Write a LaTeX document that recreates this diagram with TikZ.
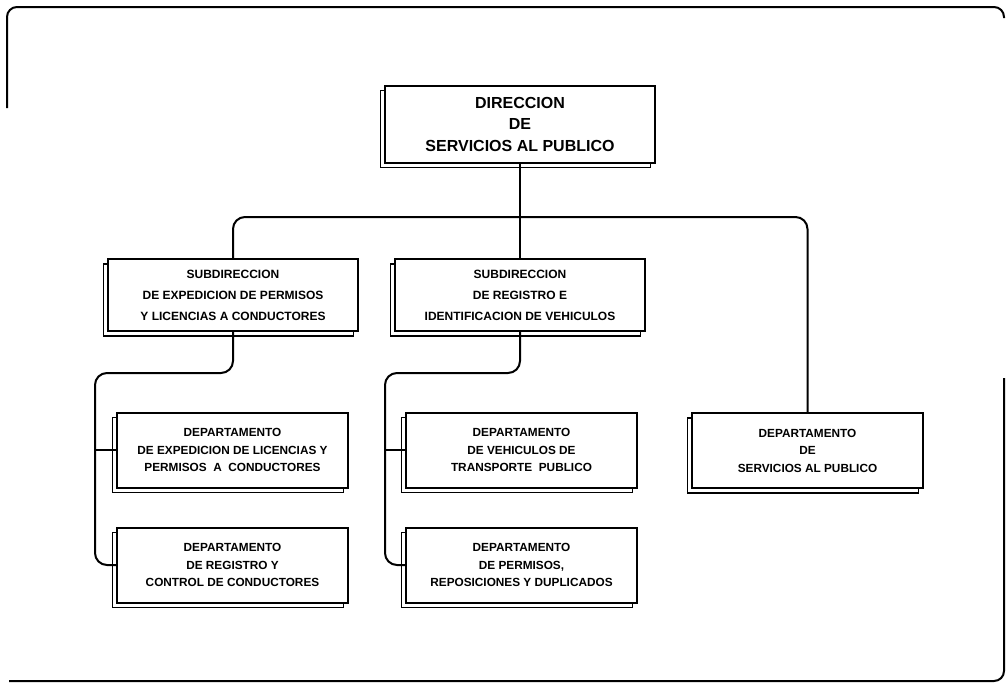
\documentclass[tikz,border=0pt]{standalone}
\usepackage{fontspec}
\setmainfont{Liberation Sans}
\usetikzlibrary{shadows}
\begin{document}
\begin{tikzpicture}[x=1pt,y=-1pt,
  box/.style={draw, fill=white, line width=2pt, inner sep=0pt, align=center,
    font=\bfseries\fontsize{11.8}{17.5}\selectfont,
    copy shadow={shadow xshift=-4.5pt, shadow yshift=-5pt, draw=black, fill=white, line width=1.8pt}},
  subbox/.style={box, minimum width=250pt, minimum height=72pt, font=\bfseries\fontsize{12}{21}\selectfont},
  depbox/.style={box, minimum width=231pt, minimum height=75pt},
  conn/.style={line width=2pt, rounded corners=12pt},
  frame/.style={line width=2pt, rounded corners=10pt}]
\useasboundingbox (0,0) rectangle (1006,683);
% frame
\draw[frame] (7,108) -- (7,7) -- (1004,7) -- (1004,18);
\draw[frame] (1004,378) -- (1004,681) -- (9,681);
% boxes
\node[box, minimum width=270pt, minimum height=77pt, font=\bfseries\fontsize{16}{21.5}\selectfont] (top) at (520,124) {DIRECCION\\DE\\SERVICIOS AL PUBLICO};
\node[subbox] (sub1) at (233,295) {SUBDIRECCION\\DE EXPEDICION DE PERMISOS\\Y LICENCIAS A CONDUCTORES};
\node[subbox] (sub2) at (520,295) {SUBDIRECCION\\DE REGISTRO E\\IDENTIFICACION DE VEHICULOS};
\node[depbox] (d1) at (232.5,450) {DEPARTAMENTO\\DE EXPEDICION DE LICENCIAS Y\\PERMISOS~~A~~CONDUCTORES};
\node[depbox] (d2) at (232.5,565) {DEPARTAMENTO\\DE REGISTRO Y\\CONTROL DE CONDUCTORES};
\node[depbox] (d3) at (521.5,450) {DEPARTAMENTO\\DE VEHICULOS DE\\TRANSPORTE~~PUBLICO};
\node[depbox] (d4) at (521.5,565) {DEPARTAMENTO\\DE PERMISOS,\\REPOSICIONES Y DUPLICADOS};
\node[depbox] (d5) at (807.5,450.5) {DEPARTAMENTO\\DE\\SERVICIOS AL PUBLICO};
% connectors
\coordinate (bus) at (520,217);
\coordinate (lbus) at (95,373);
\coordinate (mbus) at (385,373);
\draw[conn] (top.south) -- (sub2.north);
\draw[conn] (sub1.north) |- (bus) -| (d5.north);
\draw[conn] (sub1.south) |- (lbus) |- (d2.west);
\draw[conn] (d1.west) -- (d1.west -| lbus);
\draw[conn] (sub2.south) |- (mbus) |- (d4.west);
\draw[conn] (d3.west) -- (d3.west -| mbus);
\end{tikzpicture}
\end{document}
